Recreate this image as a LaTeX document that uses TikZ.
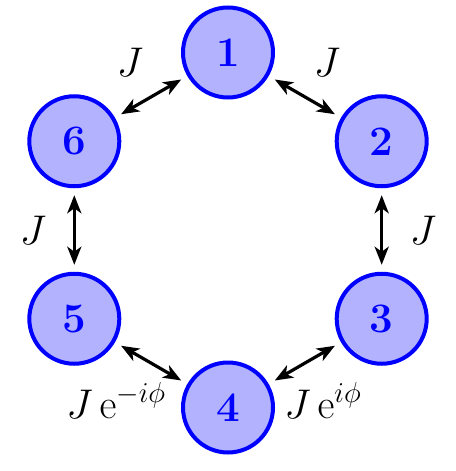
\documentclass[tikz,border=0pt]{standalone}
\usetikzlibrary{arrows.meta}
\begin{document}
\begin{tikzpicture}[x=0.5pt,y=-0.5pt,
  site/.style={circle,draw=blue,fill=blue!30,line width=2pt,minimum size=45pt,inner sep=0pt,text=blue,font=\fontsize{21}{25}\selectfont\bfseries},
  hop/.style={line width=1.6pt,{Stealth[length=9pt,width=7pt,inset=2.5pt]}-{Stealth[length=9pt,width=7pt,inset=2.5pt]},shorten <=3.5pt,shorten >=3.5pt},
  lab/.style={font=\fontsize{21}{25}\selectfont,inner sep=0pt}]
\useasboundingbox (0,0) rectangle (455,471);
\node[site] (n1) at (228,52.5) {1};
\node[site] (n2) at (381.7,141.25) {2};
\node[site] (n3) at (381.7,318.75) {3};
\node[site] (n4) at (228,407.5) {4};
\node[site] (n5) at (74.3,318.75) {5};
\node[site] (n6) at (74.3,141.25) {6};
\draw[hop] (n6) -- (n1);
\draw[hop] (n1) -- (n2);
\draw[hop] (n2) -- (n3);
\draw[hop] (n3) -- (n4);
\draw[hop] (n4) -- (n5);
\draw[hop] (n5) -- (n6);
\node[lab] (l61) at (130,62) {$J$};
\node[lab] (l12) at (327,62) {$J$};
\node[lab] (l23) at (423,230) {$J$};
\node[lab] (l56) at (33,230) {$J$};
\node[lab,anchor=base west] (l45) at (66,418) {$J\,\mathrm{e}^{-i\phi}$};
\node[lab,anchor=base west] (l34) at (284,418) {$J\,\mathrm{e}^{i\phi}$};
\end{tikzpicture}
\end{document}
